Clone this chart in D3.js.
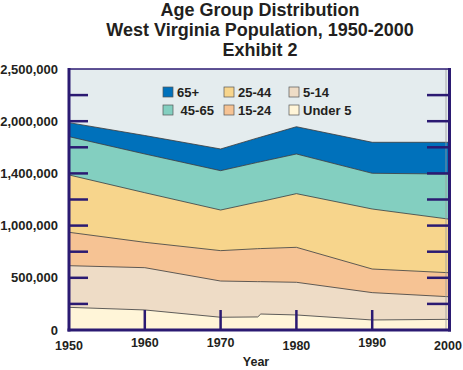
<!DOCTYPE html>
<html>
<head>
<meta charset="utf-8">
<script src="https://cdn.jsdelivr.net/npm/d3@7/dist/d3.min.js"></script>
<style>
  body { margin: 0; background: #fff; }
  svg text { font-family: Arial, "Liberation Sans", sans-serif; font-weight: bold; fill: #231f20; white-space: pre; }
</style>
</head>
<body>
<script>
// data (thousands of people)
const years = [1950, 1960, 1970, 1974.9, 1975.3, 1980, 1990, 2000];
const ageKeys = ["Under 5", "5-14", "15-24", "25-44", "45-65", "65+"];
const under5 = [217, 192, 122, 125, 153, 144, 96, 102];
const age5to14 = [399, 405, 347, 338, 310, 313, 262, 217];
const age15to24 = [320, 243, 291, 316, 317, 335, 226, 230];
const age25to44 = [549, 475, 389, 447, 450, 514, 575, 514];
const age45to65 = [367, 371, 377, 380, 382, 380, 342, 431];
const age65plus = [134, 177, 208, 234, 236, 261, 297, 304];
const colors = ["#fff5d8", "#eedcc6", "#f6c394", "#f7d58c", "#83cfc0", "#0071bb"];

const yTickValues = [0, 500000, 1000000, 1500000, 2000000, 2500000];
const yTickLabels = ["0", "500,000", "1,000,000", "1,400,000", "2,000,000", "2,500,000"];
const xTickValues = [1950, 1960, 1970, 1980, 1990, 2000];
const xLowered = [1950, 1980, 2000];

// legend layout (3 columns x 2 rows)
const legendItems = [
  { key: "65+", label: "65+", col: 0, row: 0 },
  { key: "25-44", label: "25-44", col: 1, row: 0 },
  { key: "5-14", label: "5-14", col: 2, row: 0 },
  { key: "45-65", label: " 45-65", col: 0, row: 1 },
  { key: "15-24", label: "15-24", col: 1, row: 1 },
  { key: "Under 5", label: "Under 5", col: 2, row: 1 },
];

const navy = "#2b1a72";
const W = 463, H = 370;
const plot = { left: 69, right: 448, top: 69, bottom: 330 };

const svg = d3.select("body").append("svg").attr("width", W).attr("height", H);

// table for the stack
const series = [under5, age5to14, age15to24, age25to44, age45to65, age65plus];
const table = years.map((yr, i) => {
  const row = { year: yr };
  ageKeys.forEach((k, j) => (row[k] = series[j][i] * 1000));
  return row;
});

const x = d3.scaleLinear().domain([1950, 2000]).range([plot.left, plot.right]);
const y = d3.scaleLinear().domain([0, 2500000]).range([plot.bottom, plot.top]);

const stacked = d3.stack().keys(ageKeys)(table);

// title
const titleLines = ["Age Group Distribution", "West Virginia Population, 1950-2000", "Exhibit 2"];
svg.selectAll(".title")
  .data(titleLines)
  .enter()
  .append("text")
  .attr("class", "title")
  .attr("x", 260)
  .attr("y", (d, i) => 16 + i * 20)
  .attr("text-anchor", "middle")
  .style("font-size", "18px")
  .text((d) => d);

// plot background
svg.append("rect")
  .attr("x", plot.left)
  .attr("y", plot.top)
  .attr("width", plot.right - plot.left)
  .attr("height", plot.bottom - plot.top)
  .attr("fill", "#e4ecee");

const area = d3.area()
  .x((d) => x(d.data.year))
  .y0((d) => y(d[0]))
  .y1((d) => y(d[1]));

const topLine = d3.line()
  .x((d) => x(d.data.year))
  .y((d) => y(d[1]));

svg.selectAll(".band")
  .data(stacked)
  .enter()
  .append("path")
  .attr("class", "band")
  .attr("fill", (d, i) => colors[i])
  .attr("d", area);

svg.selectAll(".edge")
  .data(stacked)
  .enter()
  .append("path")
  .attr("class", "edge")
  .attr("fill", "none")
  .attr("stroke", "#3a3a3a")
  .attr("stroke-width", 0.8)
  .attr("d", topLine);

// thin gray inner edge on the right
svg.append("line")
  .attr("x1", plot.right - 2).attr("x2", plot.right - 2)
  .attr("y1", plot.top).attr("y2", plot.bottom)
  .attr("stroke", "#9a9a9a").attr("stroke-width", 0.8);

// inner y ticks every 250,000 on both sides
const minorY = d3.range(250000, 2500000, 250000);
svg.selectAll(".ytickL")
  .data(minorY)
  .enter()
  .append("line")
  .attr("x1", plot.left).attr("x2", plot.left + 19)
  .attr("y1", (d) => y(d)).attr("y2", (d) => y(d))
  .attr("stroke", navy).attr("stroke-width", 2.5);
svg.selectAll(".ytickR")
  .data(minorY)
  .enter()
  .append("line")
  .attr("x1", plot.right - 21).attr("x2", plot.right)
  .attr("y1", (d) => y(d)).attr("y2", (d) => y(d))
  .attr("stroke", navy).attr("stroke-width", 2.5);

// x ticks upward from the bottom
svg.selectAll(".xtick")
  .data(xTickValues.slice(1, -1))
  .enter()
  .append("line")
  .attr("x1", (d) => x(d)).attr("x2", (d) => x(d))
  .attr("y1", plot.bottom).attr("y2", plot.bottom - 20)
  .attr("stroke", navy).attr("stroke-width", 2.5);

// frame
svg.append("line")
  .attr("x1", plot.left).attr("x2", plot.right + 1)
  .attr("y1", plot.top).attr("y2", plot.top)
  .attr("stroke", navy).attr("stroke-width", 1.6);
svg.append("line")
  .attr("x1", plot.left).attr("x2", plot.left)
  .attr("y1", plot.top - 1).attr("y2", plot.bottom + 1.5)
  .attr("stroke", navy).attr("stroke-width", 3);
svg.append("line")
  .attr("x1", plot.right + 1.5).attr("x2", plot.right + 1.5)
  .attr("y1", plot.top - 1).attr("y2", plot.bottom + 1.5)
  .attr("stroke", navy).attr("stroke-width", 3);
svg.append("line")
  .attr("x1", plot.left - 1.5).attr("x2", plot.right + 3)
  .attr("y1", plot.bottom).attr("y2", plot.bottom)
  .attr("stroke", navy).attr("stroke-width", 3);

// y labels
svg.selectAll(".ylab")
  .data(yTickValues)
  .enter()
  .append("text")
  .attr("x", 58)
  .attr("y", (d) => y(d) + 4.5)
  .attr("text-anchor", "end")
  .style("font-size", "13px")
  .text((d, i) => yTickLabels[i]);

// x labels
svg.selectAll(".xlab")
  .data(xTickValues)
  .enter()
  .append("text")
  .attr("x", (d) => x(d))
  .attr("y", (d) => (xLowered.includes(d) ? 350 : 347))
  .attr("text-anchor", "middle")
  .style("font-size", "12.5px")
  .text((d) => d);

svg.append("text")
  .attr("x", 256)
  .attr("y", 366)
  .attr("text-anchor", "middle")
  .style("font-size", "12.5px")
  .text("Year");

// legend
const legend = svg.selectAll(".legend")
  .data(legendItems)
  .enter()
  .append("g")
  .attr("class", "legend")
  .attr("transform", (d) => `translate(${[163, 224, 289][d.col]}, ${87 + d.row * 18})`);

legend.append("rect")
  .attr("width", 10)
  .attr("height", 10)
  .attr("fill", (d) => colors[ageKeys.indexOf(d.key)])
  .attr("stroke", "#555")
  .attr("stroke-width", 0.7);

legend.append("text")
  .attr("x", 14)
  .attr("y", 10)
  .style("font-size", "13px")
  .text((d) => d.label);
</script>
</body>
</html>
